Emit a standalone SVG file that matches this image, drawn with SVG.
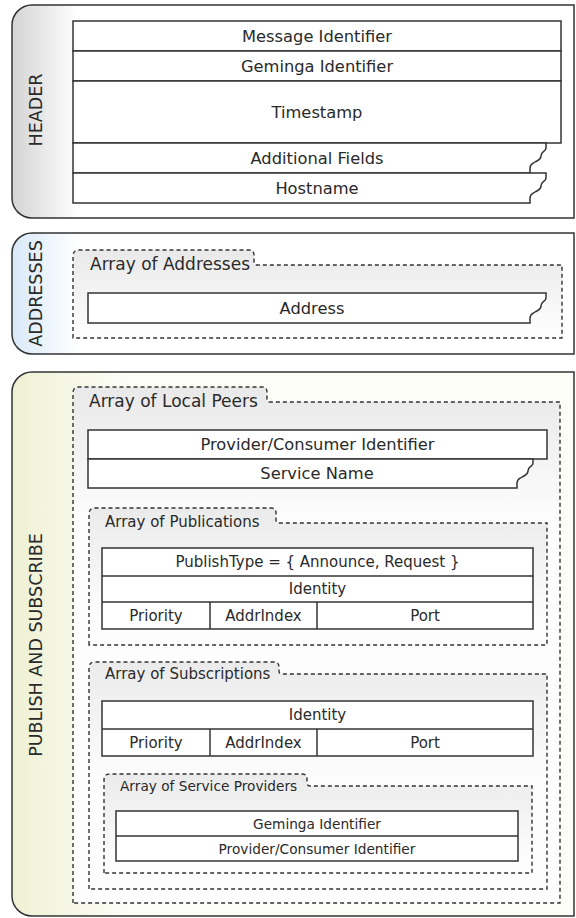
<svg xmlns="http://www.w3.org/2000/svg" width="576" height="918" viewBox="0 0 576 918">
  <defs>
    <linearGradient id="gHeader" gradientUnits="userSpaceOnUse" x1="12" y1="0" x2="78" y2="0">
      <stop offset="0" stop-color="#d4d4d4"/>
      <stop offset="1" stop-color="#ffffff"/>
    </linearGradient>
    <linearGradient id="gAddr" gradientUnits="userSpaceOnUse" x1="12" y1="0" x2="80" y2="0">
      <stop offset="0" stop-color="#d9e9f8"/>
      <stop offset="1" stop-color="#ffffff"/>
    </linearGradient>
    <linearGradient id="gPS" gradientUnits="userSpaceOnUse" x1="12" y1="0" x2="130" y2="0">
      <stop offset="0" stop-color="#eef1d4"/>
      <stop offset="1" stop-color="#fdfdf8"/>
    </linearGradient>
    <linearGradient id="gBoxAddr" gradientUnits="userSpaceOnUse" x1="0" y1="250" x2="0" y2="330">
      <stop offset="0" stop-color="#e9e9e9"/>
      <stop offset="1" stop-color="#fdfdfd"/>
    </linearGradient>
    <linearGradient id="gBoxLP" gradientUnits="userSpaceOnUse" x1="0" y1="387" x2="0" y2="520">
      <stop offset="0" stop-color="#e9e9e9"/>
      <stop offset="1" stop-color="#fdfdfd"/>
    </linearGradient>
    <linearGradient id="gBoxPub" gradientUnits="userSpaceOnUse" x1="0" y1="508" x2="0" y2="620">
      <stop offset="0" stop-color="#ebebeb"/>
      <stop offset="1" stop-color="#fdfdfd"/>
    </linearGradient>
    <linearGradient id="gBoxSub" gradientUnits="userSpaceOnUse" x1="0" y1="662" x2="0" y2="780">
      <stop offset="0" stop-color="#ebebeb"/>
      <stop offset="1" stop-color="#fdfdfd"/>
    </linearGradient>
    <linearGradient id="gBoxSP" gradientUnits="userSpaceOnUse" x1="0" y1="774" x2="0" y2="860">
      <stop offset="0" stop-color="#ebebeb"/>
      <stop offset="1" stop-color="#fdfdfd"/>
    </linearGradient>
  </defs>
  <style>
    .section { stroke: #333; stroke-width: 1.5; }
    .cont { stroke: #333; stroke-width: 1.4; stroke-dasharray: 4 3; }
    .cell { fill: #fff; stroke: #333; stroke-width: 1.5; }
    .line { stroke: #333; stroke-width: 1.5; fill: none; }
    text { font-family: "DejaVu Sans", "Liberation Sans", sans-serif; fill: #2a2a2a; }
    .sec { font-size: 17.5px; text-anchor: middle; dominant-baseline: central; }
    .lbl { font-size: 17px; }
    .lbl2 { font-size: 15px; }
    .lbl3 { font-size: 13.7px; }
    .t1 { font-size: 16.3px; text-anchor: middle; dominant-baseline: central; }
    .t2 { font-size: 15px; text-anchor: middle; dominant-baseline: central; }
    .t3 { font-size: 13.7px; text-anchor: middle; dominant-baseline: central; }
  </style>

  <!-- HEADER -->
  <g id="header">
    <path class="section" fill="url(#gHeader)" d="M574,5 H32 A20,20 0 0 0 12,25 V198 A20,20 0 0 0 32,218 H574 Z"/>
    <text class="sec" transform="translate(36,110) rotate(-90)">HEADER</text>
  </g>
  <g id="message-identifier">
    <rect class="cell" x="73" y="21" width="488" height="30"/>
    <text class="t1" x="317" y="36">Message Identifier</text>
  </g>
  <g id="geminga-identifier">
    <rect class="cell" x="73" y="51" width="488" height="30"/>
    <text class="t1" x="317" y="66">Geminga Identifier</text>
  </g>
  <g id="timestamp">
    <rect class="cell" x="73" y="81" width="488" height="62"/>
    <text class="t1" x="317" y="112">Timestamp</text>
  </g>
  <g id="additional-fields">
    <path class="cell" d="M73,143 H546 v5 c0,4 -5,3 -5,8 c0,4 -3,4 -6,6 c-3,2 -5,2 -5,6 v5 H73 Z"/>
    <text class="t1" x="317" y="158">Additional Fields</text>
  </g>
  <g id="hostname">
    <path class="cell" d="M73,173 H546 v5 c0,4 -5,3 -5,8 c0,4 -3,4 -6,6 c-3,2 -5,2 -5,6 v5 H73 Z"/>
    <text class="t1" x="317" y="188">Hostname</text>
  </g>

  <!-- ADDRESSES -->
  <g id="addresses">
    <path class="section" fill="url(#gAddr)" d="M574,233 H32 A20,20 0 0 0 12,253 V334 A20,20 0 0 0 32,354 H574 Z"/>
    <text class="sec" transform="translate(36,293.5) rotate(-90)">ADDRESSES</text>
  </g>
  <g id="array-of-addresses">
    <path class="cont" fill="url(#gBoxAddr)" d="M73,338 V256 Q73,250 79,250 H249 Q254,250 254,255 V262 Q254,265 257,265 H562 V338 Z"/>
    <text class="lbl" x="90" y="270">Array of Addresses</text>
  </g>
  <g id="address">
    <path class="cell" d="M88,293 H546 v5 c0,4 -5,3 -5,8 c0,4 -3,4 -6,6 c-3,2 -5,2 -5,6 v5 H88 Z"/>
    <text class="t1" x="312" y="308">Address</text>
  </g>

  <!-- PUBLISH AND SUBSCRIBE -->
  <g id="publish-and-subscribe">
    <path class="section" fill="url(#gPS)" d="M574,372 H32 A20,20 0 0 0 12,392 V896 A20,20 0 0 0 32,916 H574 Z"/>
    <text class="sec" transform="translate(36,645) rotate(-90)">PUBLISH AND SUBSCRIBE</text>
  </g>
  <g id="array-of-local-peers">
    <path class="cont" fill="url(#gBoxLP)" d="M73,903 V393 Q73,387 79,387 H262 Q267,387 267,392 V399 Q267,402 270,402 H560 V903 Z"/>
    <text class="lbl" x="89" y="407">Array of Local Peers</text>
  </g>
  <g id="provider-consumer-identifier">
    <rect class="cell" x="88" y="430" width="459" height="29"/>
    <text class="t1" x="317.5" y="444.5">Provider/Consumer Identifier</text>
  </g>
  <g id="service-name">
    <path class="cell" d="M88,459 H533 v4 c0,4 -5,3 -5,8 c0,4 -3,4 -6,6 c-3,2 -5,2 -5,6 v5 H88 Z"/>
    <text class="t1" x="317" y="473.5">Service Name</text>
  </g>

  <g id="array-of-publications">
    <path class="cont" fill="url(#gBoxPub)" d="M89,645 V514 Q89,508 95,508 H271 Q276,508 276,513 V520 Q276,523 279,523 H547 V645 Z"/>
    <text class="lbl2" x="105" y="527">Array of Publications</text>
  </g>
  <g id="publication-record">
    <rect class="cell" x="102" y="548" width="431" height="81"/>
    <line class="line" x1="102" y1="576" x2="533" y2="576"/>
    <line class="line" x1="102" y1="602" x2="533" y2="602"/>
    <line class="line" x1="210" y1="602" x2="210" y2="629"/>
    <line class="line" x1="317" y1="602" x2="317" y2="629"/>
    <text class="t2" x="317.5" y="562">PublishType = { Announce, Request }</text>
    <text class="t2" x="317.5" y="589">Identity</text>
    <text class="t2" x="156" y="615.5">Priority</text>
    <text class="t2" x="263.5" y="615.5">AddrIndex</text>
    <text class="t2" x="425" y="615.5">Port</text>
  </g>

  <g id="array-of-subscriptions">
    <path class="cont" fill="url(#gBoxSub)" d="M89,889 V668 Q89,662 95,662 H274 Q279,662 279,667 V671 Q279,674 282,674 H547 V889 Z"/>
    <text class="lbl2" x="105" y="679">Array of Subscriptions</text>
  </g>
  <g id="subscription-record">
    <rect class="cell" x="102" y="701" width="431" height="55"/>
    <line class="line" x1="102" y1="729" x2="533" y2="729"/>
    <line class="line" x1="210" y1="729" x2="210" y2="756"/>
    <line class="line" x1="317" y1="729" x2="317" y2="756"/>
    <text class="t2" x="317.5" y="715">Identity</text>
    <text class="t2" x="156" y="742.5">Priority</text>
    <text class="t2" x="263.5" y="742.5">AddrIndex</text>
    <text class="t2" x="425" y="742.5">Port</text>
  </g>

  <g id="array-of-service-providers">
    <path class="cont" fill="url(#gBoxSP)" d="M104,873 V780 Q104,774 110,774 H302 Q307,774 307,779 V783 Q307,786 310,786 H532 V873 Z"/>
    <text class="lbl3" x="120" y="791">Array of Service Providers</text>
  </g>
  <g id="service-provider-record">
    <rect class="cell" x="116" y="811" width="402" height="50"/>
    <line class="line" x1="116" y1="836" x2="518" y2="836"/>
    <text class="t3" x="317" y="823.5">Geminga Identifier</text>
    <text class="t3" x="317" y="848.5">Provider/Consumer Identifier</text>
  </g>

  <g id="connectors"/>
</svg>
